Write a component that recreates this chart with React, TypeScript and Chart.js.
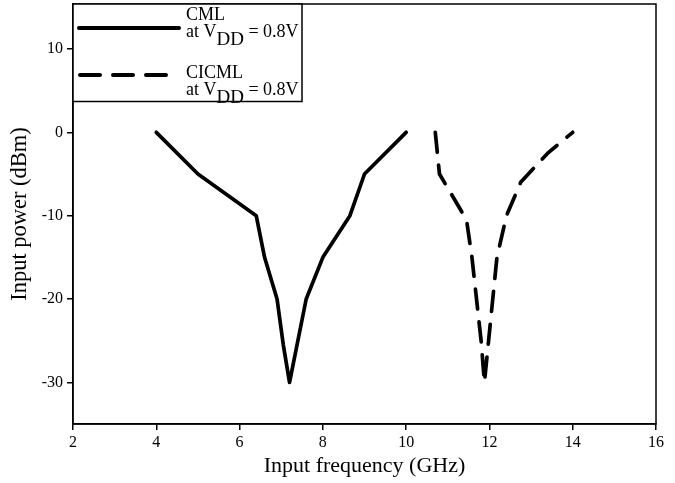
import React, { useEffect, useRef } from "react";
import { Chart, registerables } from "chart.js";

Chart.register(...registerables);

// ---- data ----
const cmlFreq = [4, 5, 6.4, 6.6, 6.9, 7.05, 7.2, 7.6, 8.0, 8.65, 9.0, 10];
const cmlPower = [0, -5, -10, -15, -20, -25.5, -30, -20, -15, -10, -5, 0];
const cicmlFreq = [10.7, 10.8, 11.45, 11.58, 11.69, 11.8, 11.88, 11.96, 12.18, 12.41, 12.75, 13.4, 14];
const cicmlPower = [0, -5, -10.5, -15, -20, -25, -30, -26, -15, -10, -6, -2.5, 0];
const seriesNames = ["CML", "CICML"];
const conditionPrefix = "at V";
const conditionSub = "DD";
const conditionSuffix = " = 0.8V";
const xTicks = [2, 4, 6, 8, 10, 12, 14, 16];
const yTicks = [-30, -20, -10, 0, 10];
const xTitle = "Input frequency (GHz)";
const yTitle = "Input power (dBm)";

const SERIF = "'Liberation Serif', 'Times New Roman', serif";

const toPoints = (xs: number[], ys: number[]) => xs.map((x, i) => ({ x, y: ys[i] }));

const framePlugin = {
  id: "frame",
  afterDatasetsDraw(chart: any) {
    const { ctx, chartArea } = chart;
    ctx.save();
    ctx.strokeStyle = "#000";
    ctx.lineWidth = 1.5;
    ctx.strokeRect(chartArea.left, chartArea.top, chartArea.right - chartArea.left, chartArea.bottom - chartArea.top);
    ctx.restore();
  },
};

const legendPlugin = {
  id: "customLegend",
  afterDraw(chart: any) {
    const { ctx, chartArea } = chart;
    const bx = chartArea.left;
    const by = chartArea.top;
    const bw = 229;
    const bh = 97.5;
    ctx.save();
    ctx.fillStyle = "#fff";
    ctx.fillRect(bx, by, bw, bh);
    ctx.strokeStyle = "#000";
    ctx.lineWidth = 1.5;
    ctx.strokeRect(bx, by, bw, bh);

    // samples
    ctx.lineWidth = 4;
    ctx.lineCap = "round";
    ctx.beginPath();
    ctx.moveTo(bx + 6, by + 24);
    ctx.lineTo(bx + 106, by + 24);
    ctx.stroke();
    ctx.setLineDash([20, 13]);
    ctx.beginPath();
    ctx.moveTo(bx + 7, by + 71);
    ctx.lineTo(bx + 94, by + 71);
    ctx.stroke();
    ctx.setLineDash([]);

    ctx.fillStyle = "#000";
    ctx.textBaseline = "alphabetic";
    ctx.textAlign = "left";
    const tx = bx + 113;
    seriesNames.forEach((name, i) => {
      const oy = by + i * 58;
      ctx.font = `18px ${SERIF}`;
      ctx.fillText(name, tx, oy + 16);
      ctx.fillText(conditionPrefix, tx, oy + 33);
      const w1 = ctx.measureText(conditionPrefix).width;
      ctx.font = `19px ${SERIF}`;
      ctx.fillText(conditionSub, tx + w1, oy + 41);
      const w2 = ctx.measureText(conditionSub).width;
      ctx.font = `18px ${SERIF}`;
      ctx.fillText(conditionSuffix, tx + w1 + w2, oy + 33);
    });
    ctx.restore();
  },
};

export default function App() {
  const canvasRef = useRef<HTMLCanvasElement | null>(null);

  useEffect(() => {
    if (!canvasRef.current) return;
    const chart = new Chart(canvasRef.current, {
      type: "scatter",
      data: {
        datasets: [
          {
            label: seriesNames[0],
            data: toPoints(cmlFreq, cmlPower),
            showLine: true,
            borderColor: "#000",
            backgroundColor: "#000",
            borderWidth: 3.7,
            pointRadius: 0,
            borderJoinStyle: "round",
            borderCapStyle: "round",
          },
          {
            label: seriesNames[1],
            data: toPoints(cicmlFreq, cicmlPower),
            showLine: true,
            borderColor: "#000",
            backgroundColor: "#000",
            borderWidth: 3.7,
            borderDash: [20, 13],
            pointRadius: 0,
            borderJoinStyle: "round",
            borderCapStyle: "round",
          },
        ],
      },
      options: {
        responsive: false,
        animation: false,
        layout: { padding: { top: 4, right: 19, left: 0, bottom: 0 } },
        plugins: {
          legend: { display: false },
          tooltip: { enabled: false },
        },
        scales: {
          x: {
            type: "linear",
            min: 2,
            max: 16,
            afterBuildTicks: (scale: any) => {
              scale.ticks = xTicks.map((v) => ({ value: v }));
            },
            afterFit: (scale: any) => {
              scale.height = 59;
              scale.paddingLeft = 0;
              scale.paddingRight = 0;
            },
            ticks: {
              color: "#000",
              font: { family: SERIF, size: 16 },
              padding: 3,
              maxRotation: 0,
            },
            grid: {
              drawOnChartArea: false,
              drawTicks: true,
              tickLength: 6,
              color: "#000",
              lineWidth: 1.5,
            },
            border: { display: true, color: "#000", width: 1.5 },
            title: {
              display: true,
              text: xTitle,
              color: "#000",
              font: { family: SERIF, size: 22 },
              padding: { top: 0, bottom: 4 },
            },
          },
          y: {
            type: "linear",
            min: -35,
            max: 15.4,
            afterBuildTicks: (scale: any) => {
              scale.ticks = yTicks.map((v) => ({ value: v }));
            },
            afterFit: (scale: any) => {
              scale.width = 73;
              scale.paddingTop = 0;
              scale.paddingBottom = 0;
            },
            ticks: {
              color: "#000",
              font: { family: SERIF, size: 16 },
              padding: 4,
            },
            grid: {
              drawOnChartArea: false,
              drawTicks: true,
              tickLength: 6,
              color: "#000",
              lineWidth: 1.5,
            },
            border: { display: true, color: "#000", width: 1.5 },
            title: {
              display: true,
              text: yTitle,
              color: "#000",
              font: { family: SERIF, size: 22.5 },
              padding: { top: 7, bottom: 0 },
            },
          },
        },
      },
      plugins: [framePlugin, legendPlugin],
    } as any);
    return () => chart.destroy();
  }, []);

  return (
    <div style={{ position: "absolute", left: 0, top: 0, width: 675, height: 483, background: "#fff" }}>
      <canvas ref={canvasRef} width={675} height={483} />
    </div>
  );
}
